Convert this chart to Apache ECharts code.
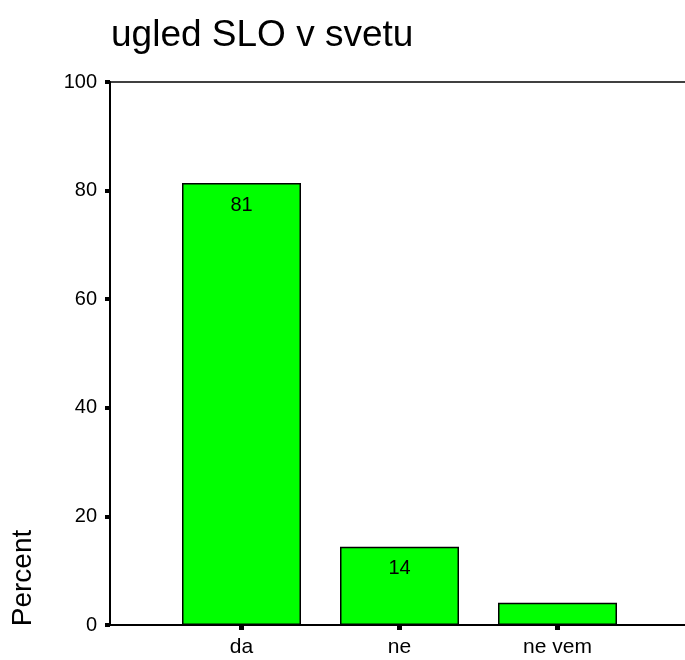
<!DOCTYPE html>
<html>
<head>
<meta charset="utf-8">
<title>ugled SLO v svetu</title>
<script src="https://cdn.jsdelivr.net/npm/echarts@6/dist/echarts.min.js"></script>
<style>
  html, body { margin: 0; padding: 0; background: #ffffff; }
  #chart { width: 685px; height: 660px; }
</style>
</head>
<body>
<div id="chart"></div>
<script>
const categories = ['da', 'ne', 'ne vem']
const percentValues = [81.4, 14.4, 4.1]
const yTicks = [0, 20, 40, 60, 80, 100]

const font = 'Liberation Sans, Arial, sans-serif'
const chart = echarts.init(document.getElementById('chart'))

// plot frame (pixels)
const frameLeft = 110
const frameTop = 82
const frameBottom = 625

const option = {
  animation: false,
  backgroundColor: '#ffffff',
  title: {
    text: 'ugled SLO v svetu',
    left: 106,
    top: 12,
    textStyle: { fontFamily: font, fontSize: 37, fontWeight: 'normal', color: '#000' }
  },
  grid: {
    left: 162.5,
    right: 48.5,
    top: frameTop,
    bottom: 660 - frameBottom
  },
  xAxis: {
    type: 'category',
    data: categories,
    axisLine: { show: false },
    axisTick: { show: true, alignWithLabel: true, length: 5, lineStyle: { color: '#000', width: 5 } },
    axisLabel: { color: '#000', fontFamily: font, fontSize: 21, margin: 12 }
  },
  yAxis: {
    type: 'value',
    min: yTicks[0],
    max: yTicks[yTicks.length - 1],
    interval: yTicks[1] - yTicks[0],
    offset: 52.5,
    axisLine: { show: true, lineStyle: { color: '#000', width: 2 } },
    axisTick: { show: true, length: 5, lineStyle: { color: '#000', width: 4 } },
    axisLabel: { color: '#000', fontFamily: font, fontSize: 20, margin: 13 },
    splitLine: { show: false }
  },
  series: [{
    type: 'bar',
    data: percentValues,
    barWidth: 119,
    itemStyle: { color: '#00ff00', borderColor: '#000', borderWidth: 1.5 },
    label: {
      show: true,
      position: 'insideTop',
      distance: 12,
      color: '#000',
      fontFamily: font,
      fontSize: 20,
      formatter: p => p.value >= 10 ? p.value.toFixed(0) : ''
    }
  }],
  graphic: [
    {
      type: 'line',
      shape: { x1: frameLeft, y1: frameTop, x2: 685, y2: frameTop },
      style: { stroke: '#000', lineWidth: 1.5 }
    },
    {
      type: 'line',
      shape: { x1: frameLeft - 1, y1: frameBottom, x2: 685, y2: frameBottom },
      style: { stroke: '#000', lineWidth: 2 }
    },
    {
      type: 'text',
      x: 23,
      y: 578,
      rotation: Math.PI / 2,
      style: {
        text: 'Percent',
        fontFamily: font,
        fontSize: 28,
        fill: '#000',
        align: 'center',
        verticalAlign: 'middle'
      }
    }
  ]
}

chart.setOption(option)
</script>
</body>
</html>
